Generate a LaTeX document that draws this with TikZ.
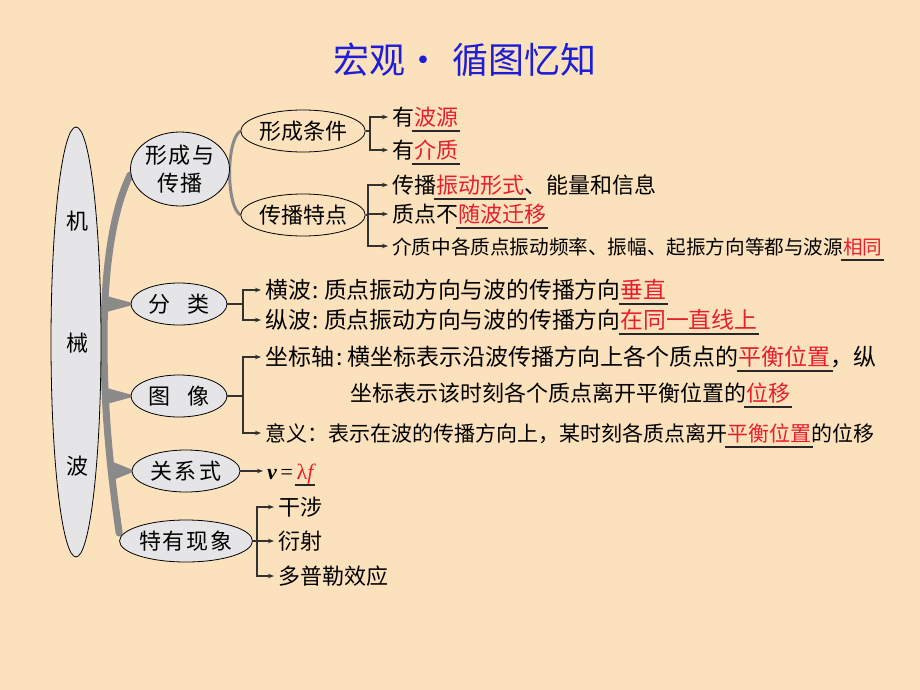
\documentclass[tikz,border=0pt]{standalone}
\usepackage{fontspec}
\setmainfont{Noto Sans CJK SC}
\newfontfamily\lserif{Liberation Serif}
\usetikzlibrary{shapes.geometric,arrows.meta}
\pgfdeclarelayer{back}
\pgfdeclarelayer{bg}
\pgfsetlayers{back,bg,main}
\definecolor{bgc}{RGB}{252,226,188}
\definecolor{ellfill}{RGB}{229,229,231}
\definecolor{spine}{RGB}{138,138,138}
\definecolor{linec}{RGB}{50,50,50}
\definecolor{ansred}{RGB}{230,30,45}
\definecolor{titleblue}{RGB}{30,30,215}
\definecolor{ulc}{RGB}{40,40,40}
\newcommand\fz[1]{\fontsize{#1}{#1}\selectfont}
\newcommand\ans[1]{\setbox0\hbox{\textcolor{ansred}{#1}}\rlap{\kern-2pt\textcolor{ulc}{\rule[-6pt]{\dimexpr\wd0+4pt\relax}{1.1pt}}}\box0}
\newcommand\ncolon{\kern2pt:\kern5pt}
\begin{document}
\begin{tikzpicture}[x=1pt,y=-1pt,
 bigell/.style={ellipse, draw=black, line width=0.8pt, fill=ellfill, inner sep=0pt},
 bigtxt/.style={inner sep=0pt, font=\fz{22}},
 lone/.style={ellipse, draw=black, line width=0.8pt, fill=ellfill, inner sep=0pt, font=\fz{22}, minimum width=96, minimum height=42},
 ltwo/.style={ellipse, draw=black, line width=0.8pt, inner sep=0pt, font=\fz{22}, minimum width=104, minimum height=42},
 txt/.style={anchor=west, inner sep=0pt, text height=17pt, text depth=0pt, font=\fz{22}},
 conn/.style={draw=linec, line width=1.1pt},
 arr/.style={conn, -{Stealth[length=6pt,width=4.5pt]}, shorten >=4pt},
 spn/.style={draw=spine, line width=7pt, line cap=round},
 arc/.style={draw=spine, line width=3pt},
]
\begin{pgfonlayer}{back}
\fill[bgc] (0,0) rectangle (920,690);
\end{pgfonlayer}
\useasboundingbox (0,0) rectangle (920,690);

% title
\node[inner sep=0pt, font=\fz{36}, text=titleblue] (title) at (465,60) {宏观·\hspace{12pt}循图忆知};

% big ellipse
\node[bigell, minimum width=50, minimum height=430] (jxb) at (76,342) {};
\node[bigtxt] (c1) at (77,221) {机};
\node[bigtxt] (c2) at (77,343) {械};
\node[bigtxt] (c3) at (77,466) {波};

% level 1
\node[lone, minimum width=95, minimum height=74, align=center, font=\fontsize{22}{28}\selectfont] (xc) at (180,169) {形\hspace{2pt}成\hspace{2pt}与\\传\hspace{2pt}播};
\node[lone] (fl) at (179,304) {分\hspace{18pt}类};
\node[lone] (tx) at (179,396) {图\hspace{18pt}像};
\node[lone, minimum width=108] (gx) at (186,471) {关\hspace{3pt}系\hspace{3pt}式};
\node[lone, minimum width=108] (ty) at (186,541) {特\hspace{2pt}有\hspace{2pt}现\hspace{2pt}象};

% level 2
\node[ltwo] (tj) at (303,131) {形成条件};
\node[ltwo] (td) at (303,215) {传播特点};

% texts
\node[txt] (a1) at (392,117) {有\ans{波源}};
\node[txt] (a2) at (392,150) {有\ans{介质}};
\node[txt] (b1) at (392,185) {传播\ans{振动形式}、能量和信息};
\node[txt] (b2) at (392,214) {质点不\ans{随波迁移}};
\node[txt, font=\fz{19.6}] (b3) at (392,246) {介质中各质点振动频率、振幅、起振方向等都与波源\ans{相同}};
\node[txt, font=\fz{22.8}] (d1) at (265,290) {横波\ncolon 质点振动方向与波的传播方向\ans{垂直}};
\node[txt, font=\fz{22.8}] (d2) at (265,320) {纵波\ncolon 质点振动方向与波的传播方向\ans{在同一直线上}};
\node[txt, font=\fz{23}] (e1) at (265,357) {坐标轴\ncolon 横坐标表示沿波传播方向上各个质点的\ans{平衡位置}，纵};
\node[txt] (e2) at (350,393) {坐标表示该时刻各个质点离开平衡位置的\ans{位移}};
\node[txt, font=\fz{21}] (e3) at (265,433) {意义：表示在波的传播方向上，某时刻各质点离开\ans{平衡位置}的位移};
\node[txt] (g1) at (267,471) {{\lserif\bfseries\itshape v}\,{\lserif =}\,\ans{\lserif λ\itshape f}};
\node[txt] (h1) at (278,507) {干涉};
\node[txt] (h2) at (278,541) {衍射};
\node[txt] (h3) at (278,576) {多普勒效应};

% junctions
\coordinate (ja) at (370,131);
\coordinate (jb) at (368,215);
\coordinate (jc) at (243,304);
\coordinate (jd) at (243,396);
\coordinate (jf) at (257,541);

\draw[conn] (tj.east) -- (ja);
\draw[arr] (ja) |- (a1.west);
\draw[arr] (ja) |- (a2.west);
\draw[conn] (td.east) -- (jb);
\draw[arr] (jb) |- (b1.west);
\draw[arr] (jb) |- (b2.west);
\draw[arr] (jb) |- (b3.west);
\draw[conn] (fl.east) -- (jc);
\draw[arr] (jc) |- (d1.west);
\draw[arr] (jc) |- (d2.west);
\draw[conn] (tx.east) -- (jd);
\draw[arr] (jd) |- (e1.west);
\draw[arr] (jd) |- (e3.west);
\draw[arr] (gx.east) -- (g1.west);
\draw[conn] (ty.east) -- (jf);
\draw[arr] (jf) |- (h1.west);
\draw[arr] (jf) |- (h2.west);
\draw[arr] (jf) |- (h3.west);

% gray branches
\begin{pgfonlayer}{bg}
\draw[spn] ([yshift=-6pt]xc.west) .. controls (112,212) and (104,272) .. (104,340) .. controls (104,420) and (112,482) .. ([yshift=8pt]ty.west);
\fill[spine] (103,295) -- ([yshift=1.5pt]fl.west) -- ([yshift=-1.5pt]fl.west) -- (103,313) -- cycle;
\fill[spine] (103,387) -- ([yshift=1.5pt]tx.west) -- ([yshift=-1.5pt]tx.west) -- (103,405) -- cycle;
\fill[spine] (113,462) -- ([yshift=1.5pt]gx.west) -- ([yshift=-1.5pt]gx.west) -- (113,480) -- cycle;
\draw[arc] (tj.west) .. controls (226,140) and (226,206) .. (td.west);
\end{pgfonlayer}
\end{tikzpicture}
\end{document}
